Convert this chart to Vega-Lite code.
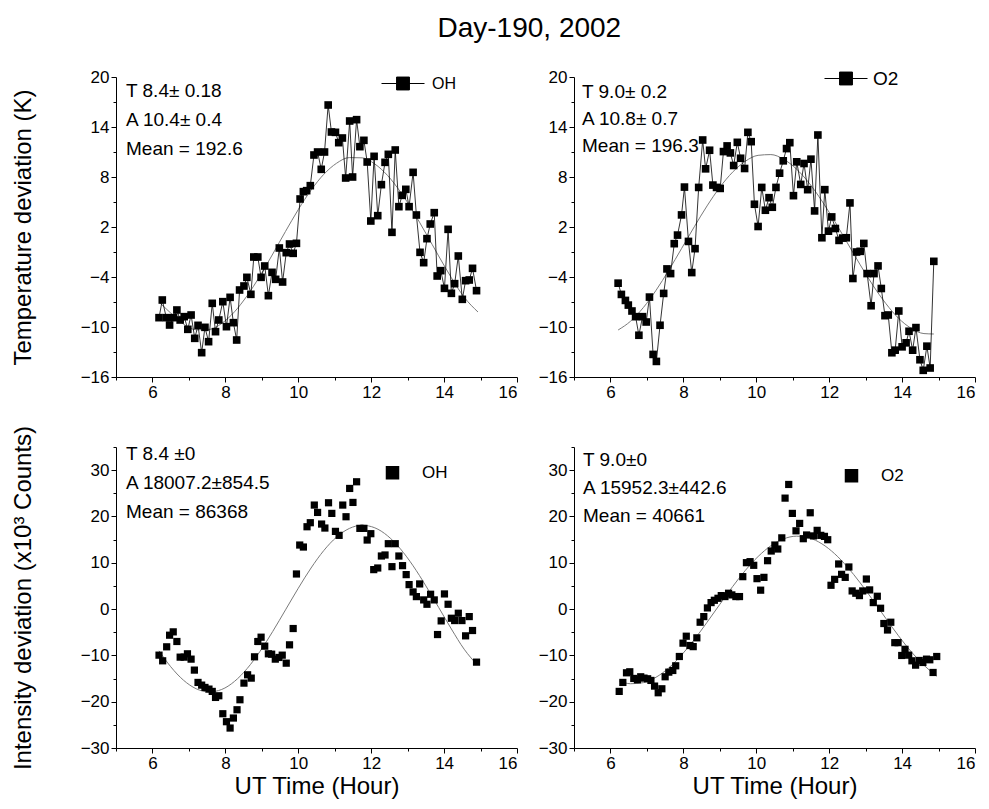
{
  "$schema": "https://vega.github.io/schema/vega-lite/v6.json",
  "background": "white",
  "padding": {"left": 11, "top": 14, "right": 5, "bottom": 5},
  "title": {"text": "Day-190, 2002", "fontSize": 28, "font": "Liberation Sans", "fontWeight": "normal", "color": "black", "anchor": "middle", "frame": "bounds", "offset": 14, "dx": 36},
  "config": {
    "view": {"stroke": null},
    "font": "Liberation Sans",
    "axis": {"labelFont": "Liberation Sans", "labelFontSize": 17, "labelColor": "black", "domainColor": "black", "tickColor": "black", "grid": false, "titleFont": "Liberation Sans", "titleFontSize": 24, "titleFontWeight": "normal", "titleColor": "black", "tickSize": 5, "labelPadding": 2, "domainWidth": 1, "tickWidth": 1},
    "legend": {"labelFont": "Liberation Sans", "labelColor": "black", "title": null, "padding": 0}
  },
  "resolve": {"scale": {"color": "independent", "shape": "independent"}, "legend": {"color": "independent", "shape": "independent"}},
  "datasets": {
    "ohT": [
      {"t":6.18,"v":-8.88},{"t":6.27,"v":-6.76},{"t":6.38,"v":-8.88},{"t":6.47,"v":-9.76},{"t":6.58,"v":-8.88},{"t":6.67,"v":-7.96},{"t":6.76,"v":-9.16},{"t":6.87,"v":-8.76},{"t":6.97,"v":-10.28},{"t":7.06,"v":-8.56},
      {"t":7.16,"v":-11.36},{"t":7.25,"v":-9.8},{"t":7.35,"v":-13.08},{"t":7.44,"v":-10.04},{"t":7.54,"v":-11.76},{"t":7.64,"v":-7.16},{"t":7.73,"v":-10.56},{"t":7.82,"v":-9.16},{"t":7.93,"v":-6.96},{"t":8.03,"v":-9.96},
      {"t":8.13,"v":-6.44},{"t":8.22,"v":-9.48},{"t":8.31,"v":-11.56},{"t":8.39,"v":-5.56},{"t":8.51,"v":-5.08},{"t":8.59,"v":-4.04},{"t":8.70,"v":-6.08},{"t":8.78,"v":-1.6},{"t":8.89,"v":-1.6},{"t":8.98,"v":-4.04},
      {"t":9.08,"v":-2.68},{"t":9.18,"v":-6.24},{"t":9.28,"v":-3.44},{"t":9.38,"v":-4.28},{"t":9.48,"v":-0.52},{"t":9.57,"v":-4.6},{"t":9.67,"v":-1.08},{"t":9.76,"v":-0.04},{"t":9.86,"v":-1.16},{"t":9.95,"v":0.04},
      {"t":10.05,"v":5.36},{"t":10.14,"v":6.24},{"t":10.23,"v":6.36},{"t":10.33,"v":6.96},{"t":10.43,"v":10.64},{"t":10.53,"v":11.0},{"t":10.63,"v":8.92},{"t":10.72,"v":11.0},{"t":10.82,"v":16.64},{"t":10.91,"v":13.4},
      {"t":11.02,"v":13.36},{"t":11.11,"v":12.12},{"t":11.21,"v":12.68},{"t":11.30,"v":7.88},{"t":11.41,"v":14.72},{"t":11.49,"v":8.0},{"t":11.60,"v":14.88},{"t":11.69,"v":11.64},{"t":11.80,"v":12.4},{"t":11.89,"v":9.8},
      {"t":11.99,"v":2.72},{"t":12.08,"v":10.48},{"t":12.18,"v":3.36},{"t":12.28,"v":7.08},{"t":12.38,"v":9.76},{"t":12.47,"v":10.72},{"t":12.57,"v":1.36},{"t":12.66,"v":11.24},{"t":12.76,"v":4.44},{"t":12.85,"v":5.8},
      {"t":12.95,"v":6.52},{"t":13.04,"v":4.44},{"t":13.15,"v":8.56},{"t":13.24,"v":3.44},{"t":13.34,"v":-1.04},{"t":13.44,"v":-2.28},{"t":13.53,"v":0.6},{"t":13.62,"v":2.36},{"t":13.73,"v":3.72},{"t":13.81,"v":-3.88},
      {"t":13.91,"v":-3.24},{"t":14.01,"v":-5.36},{"t":14.11,"v":1.72},{"t":14.20,"v":-5.96},{"t":14.29,"v":-4.8},{"t":14.39,"v":-1.48},{"t":14.50,"v":-6.68},{"t":14.59,"v":-4.44},{"t":14.69,"v":-4.36},{"t":14.78,"v":-2.96},
      {"t":14.89,"v":-5.64}
    ],
    "o2T": [
      {"t":6.21,"v":-4.74},{"t":6.30,"v":-6.09},{"t":6.41,"v":-6.81},{"t":6.49,"v":-7.37},{"t":6.59,"v":-8.08},{"t":6.69,"v":-8.76},{"t":6.78,"v":-10.99},{"t":6.88,"v":-8.76},{"t":6.98,"v":-9.4},{"t":7.07,"v":-6.41},
      {"t":7.17,"v":-13.29},{"t":7.26,"v":-14.13},{"t":7.36,"v":-9.79},{"t":7.46,"v":-5.97},{"t":7.55,"v":-3.03},{"t":7.65,"v":-3.59},{"t":7.75,"v":0.0},{"t":7.84,"v":1.03},{"t":7.95,"v":3.45},{"t":8.03,"v":6.79},
      {"t":8.14,"v":0.27},{"t":8.23,"v":-3.47},{"t":8.32,"v":-0.6},{"t":8.42,"v":6.75},{"t":8.53,"v":12.44},{"t":8.61,"v":8.98},{"t":8.72,"v":11.21},{"t":8.81,"v":7.03},{"t":8.91,"v":6.75},{"t":9.01,"v":6.63},
      {"t":9.10,"v":11.05},{"t":9.20,"v":11.73},{"t":9.29,"v":10.89},{"t":9.38,"v":9.38},{"t":9.48,"v":12.16},{"t":9.57,"v":10.25},{"t":9.68,"v":9.02},{"t":9.77,"v":13.36},{"t":9.86,"v":12.24},{"t":9.95,"v":4.73},
      {"t":10.05,"v":2.06},{"t":10.15,"v":6.75},{"t":10.25,"v":4.01},{"t":10.35,"v":5.52},{"t":10.44,"v":4.37},{"t":10.54,"v":6.75},{"t":10.64,"v":8.46},{"t":10.74,"v":9.94},{"t":10.83,"v":11.41},{"t":10.92,"v":12.12},
      {"t":11.02,"v":5.76},{"t":11.11,"v":9.82},{"t":11.22,"v":7.11},{"t":11.31,"v":9.62},{"t":11.41,"v":6.48},{"t":11.50,"v":10.14},{"t":11.60,"v":3.93},{"t":11.69,"v":13.04},{"t":11.80,"v":0.71},{"t":11.88,"v":6.48},
      {"t":11.98,"v":1.5},{"t":12.07,"v":3.21},{"t":12.17,"v":1.82},{"t":12.27,"v":0.39},{"t":12.37,"v":0.67},{"t":12.47,"v":0.71},{"t":12.57,"v":4.89},{"t":12.65,"v":-4.18},{"t":12.75,"v":-1.0},{"t":12.85,"v":-0.92},
      {"t":12.95,"v":0.03},{"t":13.04,"v":-3.59},{"t":13.15,"v":-7.45},{"t":13.23,"v":-3.59},{"t":13.34,"v":-2.67},{"t":13.43,"v":-5.38},{"t":13.53,"v":-8.64},{"t":13.62,"v":-8.56},{"t":13.72,"v":-13.09},{"t":13.81,"v":-12.78},
      {"t":13.91,"v":-8.08},{"t":14.00,"v":-12.38},{"t":14.11,"v":-11.9},{"t":14.19,"v":-10.51},{"t":14.29,"v":-12.78},{"t":14.38,"v":-10.07},{"t":14.49,"v":-13.93},{"t":14.58,"v":-15.2},{"t":14.68,"v":-12.3},{"t":14.77,"v":-14.92},
      {"t":14.87,"v":-2.12}
    ],
    "ohI": [
      {"t":6.18,"v":-9.95},{"t":6.28,"v":-11.17},{"t":6.39,"v":-8.15},{"t":6.47,"v":-5.64},{"t":6.57,"v":-4.92},{"t":6.67,"v":-7.0},{"t":6.76,"v":-10.38},{"t":6.87,"v":-10.38},{"t":6.96,"v":-9.66},{"t":7.06,"v":-10.81},
      {"t":7.15,"v":-13.18},{"t":7.25,"v":-15.84},{"t":7.35,"v":-16.42},{"t":7.44,"v":-16.92},{"t":7.55,"v":-17.28},{"t":7.64,"v":-17.78},{"t":7.73,"v":-19.08},{"t":7.82,"v":-18.72},{"t":7.93,"v":-22.6},{"t":8.03,"v":-24.32},
      {"t":8.13,"v":-25.69},{"t":8.22,"v":-23.53},{"t":8.32,"v":-21.74},{"t":8.40,"v":-19.58},{"t":8.51,"v":-15.99},{"t":8.61,"v":-14.19},{"t":8.71,"v":-14.91},{"t":8.80,"v":-10.31},{"t":8.89,"v":-7.0},{"t":8.98,"v":-6.07},
      {"t":9.08,"v":-8.01},{"t":9.18,"v":-9.66},{"t":9.27,"v":-9.74},{"t":9.37,"v":-10.81},{"t":9.47,"v":-10.45},{"t":9.56,"v":-9.95},{"t":9.67,"v":-11.68},{"t":9.76,"v":-7.72},{"t":9.86,"v":-4.2},{"t":9.95,"v":7.58},
      {"t":10.04,"v":13.83},{"t":10.14,"v":13.4},{"t":10.24,"v":17.78},{"t":10.33,"v":18.65},{"t":10.44,"v":22.46},{"t":10.53,"v":20.87},{"t":10.64,"v":18.36},{"t":10.73,"v":17.5},{"t":10.83,"v":22.96},{"t":10.92,"v":20.66},
      {"t":11.02,"v":16.78},{"t":11.12,"v":15.92},{"t":11.22,"v":22.46},{"t":11.31,"v":19.94},{"t":11.41,"v":26.05},{"t":11.50,"v":23.03},{"t":11.60,"v":27.49},{"t":11.69,"v":17.43},{"t":11.80,"v":17.43},{"t":11.89,"v":14.91},
      {"t":11.99,"v":16.28},{"t":12.07,"v":8.52},{"t":12.18,"v":8.87},{"t":12.28,"v":11.46},{"t":12.38,"v":11.68},{"t":12.47,"v":14.12},{"t":12.57,"v":9.16},{"t":12.66,"v":14.12},{"t":12.76,"v":11.46},{"t":12.86,"v":9.38},
      {"t":12.96,"v":7.44},{"t":13.04,"v":5.28},{"t":13.15,"v":3.7},{"t":13.24,"v":2.69},{"t":13.33,"v":5.43},{"t":13.44,"v":1.98},{"t":13.53,"v":1.04},{"t":13.63,"v":3.2},{"t":13.73,"v":1.98},{"t":13.82,"v":-5.5},
      {"t":13.92,"v":-2.55},{"t":14.01,"v":3.27},{"t":14.11,"v":1.04},{"t":14.20,"v":-1.98},{"t":14.29,"v":-2.48},{"t":14.39,"v":-0.9},{"t":14.49,"v":-2.48},{"t":14.59,"v":-5.78},{"t":14.69,"v":-1.62},{"t":14.78,"v":-4.63},
      {"t":14.89,"v":-11.46}
    ],
    "o2I": [
      {"t":6.24,"v":-17.78},{"t":6.34,"v":-15.84},{"t":6.44,"v":-13.76},{"t":6.53,"v":-13.54},{"t":6.64,"v":-14.98},{"t":6.74,"v":-15.27},{"t":6.83,"v":-14.62},{"t":6.92,"v":-14.91},{"t":7.02,"v":-15.05},{"t":7.11,"v":-15.41},
      {"t":7.21,"v":-16.63},{"t":7.31,"v":-18.07},{"t":7.41,"v":-17.21},{"t":7.50,"v":-14.62},{"t":7.60,"v":-13.62},{"t":7.71,"v":-13.26},{"t":7.79,"v":-12.25},{"t":7.89,"v":-10.24},{"t":7.99,"v":-7.36},{"t":8.08,"v":-5.86},
      {"t":8.18,"v":-7.87},{"t":8.27,"v":-8.11},{"t":8.37,"v":-6.21},{"t":8.46,"v":-2.84},{"t":8.56,"v":-1.62},{"t":8.66,"v":0.25},{"t":8.76,"v":1.4},{"t":8.85,"v":1.9},{"t":8.95,"v":2.33},{"t":9.04,"v":2.91},
      {"t":9.14,"v":2.7},{"t":9.24,"v":3.42},{"t":9.33,"v":3.06},{"t":9.44,"v":2.7},{"t":9.54,"v":2.7},{"t":9.63,"v":7.0},{"t":9.73,"v":10.02},{"t":9.83,"v":10.24},{"t":9.93,"v":9.45},{"t":10.02,"v":6.57},
      {"t":10.12,"v":4.08},{"t":10.21,"v":6.85},{"t":10.31,"v":10.45},{"t":10.41,"v":12.54},{"t":10.51,"v":13.83},{"t":10.59,"v":12.97},{"t":10.70,"v":15.38},{"t":10.79,"v":23.96},{"t":10.89,"v":26.91},{"t":10.99,"v":20.66},
      {"t":11.09,"v":16.9},{"t":11.19,"v":18.5},{"t":11.29,"v":15.2},{"t":11.38,"v":16.0},{"t":11.48,"v":20.8},{"t":11.57,"v":15.8},{"t":11.67,"v":17.0},{"t":11.77,"v":15.92},{"t":11.87,"v":15.7},{"t":11.96,"v":14.98},
      {"t":12.05,"v":5.14},{"t":12.15,"v":6.42},{"t":12.26,"v":9.74},{"t":12.34,"v":7.5},{"t":12.44,"v":6.85},{"t":12.54,"v":9.09},{"t":12.63,"v":3.92},{"t":12.73,"v":3.42},{"t":12.83,"v":2.91},{"t":12.92,"v":3.92},
      {"t":13.02,"v":6.49},{"t":13.11,"v":4.14},{"t":13.21,"v":1.4},{"t":13.32,"v":2.77},{"t":13.41,"v":0.18},{"t":13.50,"v":-3.12},{"t":13.60,"v":-4.52},{"t":13.69,"v":-2.84},{"t":13.80,"v":-7.25},{"t":13.89,"v":-7.25},
      {"t":13.99,"v":-10.02},{"t":14.08,"v":-8.69},{"t":14.18,"v":-9.95},{"t":14.27,"v":-11.17},{"t":14.37,"v":-12.11},{"t":14.47,"v":-11.1},{"t":14.57,"v":-11.53},{"t":14.67,"v":-10.81},{"t":14.76,"v":-10.95},{"t":14.85,"v":-13.69},
      {"t":14.95,"v":-10.24}
    ],
    "ohT_fit": [
      {"t":6.2,"v":-7.1},{"t":6.5,"v":-8.32},{"t":6.85,"v":-9.65},{"t":7.2,"v":-10.33},{"t":7.55,"v":-10.3},{"t":7.9,"v":-9.57},{"t":8.25,"v":-8.18},{"t":8.6,"v":-6.23},{"t":8.95,"v":-3.87},{"t":9.3,"v":-1.24},
      {"t":9.65,"v":1.47},{"t":10.0,"v":4.09},{"t":10.35,"v":6.42},{"t":10.7,"v":8.32},{"t":11.05,"v":9.65},{"t":11.4,"v":10.33},{"t":11.75,"v":10.3},{"t":12.1,"v":9.56},{"t":12.45,"v":8.18},{"t":12.8,"v":6.23},
      {"t":13.15,"v":3.87},{"t":13.5,"v":1.24},{"t":13.85,"v":-1.47},{"t":14.2,"v":-4.09},{"t":14.55,"v":-6.42},{"t":14.93,"v":-8.2}
    ],
    "o2T_fit": [
      {"t":6.21,"v":-10.36},{"t":6.55,"v":-9.31},{"t":6.9,"v":-7.68},{"t":7.25,"v":-5.6},{"t":7.6,"v":-3.19},{"t":7.95,"v":-0.59},{"t":8.3,"v":2.03},{"t":8.65,"v":4.53},{"t":9.0,"v":6.76},{"t":9.35,"v":8.58},
      {"t":9.7,"v":9.89},{"t":10.05,"v":10.6},{"t":10.4,"v":10.69},{"t":10.75,"v":10.13},{"t":11.1,"v":8.97},{"t":11.45,"v":7.27},{"t":11.8,"v":5.13},{"t":12.15,"v":2.69},{"t":12.5,"v":0.08},{"t":12.85,"v":-2.53},
      {"t":13.2,"v":-5.0},{"t":13.55,"v":-7.16},{"t":13.9,"v":-8.94},{"t":14.25,"v":-10.16},{"t":14.6,"v":-10.79},{"t":14.87,"v":-10.84}
    ],
    "ohI_fit": [
      {"t":6.18,"v":-9.01},{"t":6.5,"v":-12.44},{"t":6.85,"v":-15.35},{"t":7.2,"v":-17.21},{"t":7.55,"v":-17.9},{"t":7.9,"v":-17.36},{"t":8.25,"v":-15.62},{"t":8.6,"v":-12.82},{"t":8.95,"v":-9.14},{"t":9.3,"v":-4.82},
      {"t":9.65,"v":-0.17},{"t":10.0,"v":4.5},{"t":10.35,"v":8.87},{"t":10.7,"v":12.64},{"t":11.05,"v":15.55},{"t":11.4,"v":17.41},{"t":11.75,"v":18.1},{"t":12.1,"v":17.55},{"t":12.45,"v":15.82},{"t":12.8,"v":13.02},
      {"t":13.15,"v":9.34},{"t":13.5,"v":5.01},{"t":13.85,"v":0.37},{"t":14.2,"v":-4.3},{"t":14.55,"v":-8.66},{"t":14.89,"v":-11.9}
    ],
    "o2I_fit": [
      {"t":6.24,"v":-15.53},{"t":6.55,"v":-16.12},{"t":6.9,"v":-15.89},{"t":7.25,"v":-14.72},{"t":7.6,"v":-12.7},{"t":7.95,"v":-9.93},{"t":8.3,"v":-6.58},{"t":8.65,"v":-2.85},{"t":9.0,"v":1.02},{"t":9.35,"v":4.84},
      {"t":9.7,"v":8.35},{"t":10.05,"v":11.35},{"t":10.4,"v":13.67},{"t":10.75,"v":15.16},{"t":11.1,"v":15.74},{"t":11.45,"v":15.38},{"t":11.8,"v":14.09},{"t":12.15,"v":11.95},{"t":12.5,"v":9.08},{"t":12.85,"v":5.67},
      {"t":13.2,"v":1.91},{"t":13.55,"v":-1.97},{"t":13.9,"v":-5.75},{"t":14.25,"v":-9.21},{"t":14.6,"v":-12.13},{"t":14.95,"v":-14.5}
    ],
    "notes_ohT": [{"note":"T 8.4± 0.18","order":1},{"note":"A 10.4± 0.4","order":2},{"note":"Mean = 192.6","order":3}],
    "notes_o2T": [{"note":"T 9.0± 0.2","order":1},{"note":"A 10.8± 0.7","order":2},{"note":"Mean = 196.3","order":3}],
    "notes_ohI": [{"note":"T  8.4 ±0","order":1},{"note":"A 18007.2±854.5","order":2},{"note":"Mean = 86368","order":3}],
    "notes_o2I": [{"note":"T  9.0±0","order":1},{"note":"A 15952.3±442.6","order":2},{"note":"Mean = 40661","order":3}]
  },
  "columns": 2,
  "spacing": {"row": 70, "column": 57},
  "bounds": "flush",
  "concat": [
    {
      "width": 401, "height": 300,
      "resolve": {"axis": {"x": "independent", "y": "independent"}},
      "layer": [
        {"data": {"name": "ohT_fit"}, "mark": {"type": "line", "color": "#7a7a7a", "strokeWidth": 1, "interpolate": "monotone"},
         "encoding": {
           "x": {"field": "t", "type": "quantitative", "scale": {"domain": [5, 16], "nice": false, "zero": false}, "axis": {"orient": "bottom", "values": [5,7,9,11,13,15], "labels": false, "tickSize": 3, "title": null, "domain": false}},
           "y": {"field": "v", "type": "quantitative", "scale": {"domain": [-16, 20], "nice": false, "zero": false}, "axis": {"orient": "left", "values": [-13,-7,-1,5,11,17], "labels": false, "tickSize": 3, "title": null, "domain": false}}}},
        {"data": {"name": "ohT"}, "mark": {"type": "line", "color": "black", "strokeWidth": 0.8},
         "encoding": {"x": {"field": "t", "type": "quantitative", "axis": null}, "y": {"field": "v", "type": "quantitative", "axis": null}}},
        {"data": {"name": "ohT"}, "mark": {"type": "point", "shape": "square", "filled": true, "size": 58, "opacity": 1},
         "encoding": {
           "x": {"field": "t", "type": "quantitative", "axis": {"orient": "bottom", "values": [6,8,10,12,14,16], "format": "d", "title": null}},
           "y": {"field": "v", "type": "quantitative", "axis": {"orient": "left", "values": [-16,-10,-4,2,8,14,20], "format": "d", "title": "Temperature deviation (K)", "titlePadding": 45}},
           "color": {"datum": "OH", "type": "nominal", "scale": {"range": ["black"]}, "legend": {"orient": "none", "legendX": 265, "legendY": -15.5, "symbolType": "M-1,0H1M-0.3,-0.3H0.3V0.3H-0.3Z", "symbolSize": 1849, "symbolStrokeColor": "black", "symbolFillColor": "black", "symbolStrokeWidth": 1, "labelFontSize": 16, "labelOffset": 7}}}},
        {"data": {"name": "notes_ohT"}, "mark": {"type": "point", "opacity": 0},
         "encoding": {"shape": {"field": "note", "type": "nominal", "sort": {"field": "order", "op": "min"}, "legend": {"orient": "none", "legendX": -9, "legendY": 4, "symbolSize": 0, "symbolOpacity": 0, "labelOffset": 0, "labelFontSize": 19, "rowPadding": 9, "labelLimit": 300}}}}
      ]
    },
    {
      "width": 401, "height": 300,
      "resolve": {"axis": {"x": "independent", "y": "independent"}},
      "layer": [
        {"data": {"name": "o2T_fit"}, "mark": {"type": "line", "color": "#7a7a7a", "strokeWidth": 1, "interpolate": "monotone"},
         "encoding": {
           "x": {"field": "t", "type": "quantitative", "scale": {"domain": [5, 16], "nice": false, "zero": false}, "axis": {"orient": "bottom", "values": [5,7,9,11,13,15], "labels": false, "tickSize": 3, "title": null, "domain": false}},
           "y": {"field": "v", "type": "quantitative", "scale": {"domain": [-16, 20], "nice": false, "zero": false}, "axis": {"orient": "left", "values": [-13,-7,-1,5,11,17], "labels": false, "tickSize": 3, "title": null, "domain": false}}}},
        {"data": {"name": "o2T"}, "mark": {"type": "line", "color": "black", "strokeWidth": 0.8},
         "encoding": {"x": {"field": "t", "type": "quantitative", "axis": null}, "y": {"field": "v", "type": "quantitative", "axis": null}}},
        {"data": {"name": "o2T"}, "mark": {"type": "point", "shape": "square", "filled": true, "size": 58, "opacity": 1},
         "encoding": {
           "x": {"field": "t", "type": "quantitative", "axis": {"orient": "bottom", "values": [6,8,10,12,14,16], "format": "d", "title": null}},
           "y": {"field": "v", "type": "quantitative", "axis": {"orient": "left", "values": [-16,-10,-4,2,8,14,20], "format": "d", "title": null}},
           "color": {"datum": "O2", "type": "nominal", "scale": {"range": ["black"]}, "legend": {"orient": "none", "legendX": 250, "legendY": -20.5, "symbolType": "M-1,0H1M-0.3,-0.3H0.3V0.3H-0.3Z", "symbolSize": 1849, "symbolStrokeColor": "black", "symbolFillColor": "black", "symbolStrokeWidth": 1, "labelFontSize": 19, "labelOffset": 5}}}},
        {"data": {"name": "notes_o2T"}, "mark": {"type": "point", "opacity": 0},
         "encoding": {"shape": {"field": "note", "type": "nominal", "sort": {"field": "order", "op": "min"}, "legend": {"orient": "none", "legendX": -11, "legendY": 5.7, "symbolSize": 0, "symbolOpacity": 0, "labelOffset": 0, "labelFontSize": 19, "rowPadding": 7, "labelLimit": 300}}}}
      ]
    },
    {
      "width": 401, "height": 301,
      "resolve": {"axis": {"x": "independent", "y": "independent"}},
      "layer": [
        {"data": {"name": "ohI_fit"}, "mark": {"type": "line", "color": "#7a7a7a", "strokeWidth": 1, "interpolate": "monotone"},
         "encoding": {
           "x": {"field": "t", "type": "quantitative", "scale": {"domain": [5, 16], "nice": false, "zero": false}, "axis": {"orient": "bottom", "values": [5,7,9,11,13,15], "labels": false, "tickSize": 3, "title": null, "domain": false}},
           "y": {"field": "v", "type": "quantitative", "scale": {"domain": [-30, 35], "nice": false, "zero": false}, "axis": {"orient": "left", "values": [-25,-15,-5,5,15,25,35], "labels": false, "tickSize": 3, "title": null, "domain": false}}}},
        {"data": {"name": "ohI"}, "mark": {"type": "point", "shape": "square", "filled": true, "size": 52, "opacity": 1},
         "encoding": {
           "x": {"field": "t", "type": "quantitative", "axis": {"orient": "bottom", "values": [6,8,10,12,14,16], "format": "d", "title": "UT Time (Hour)", "titlePadding": 3}},
           "y": {"field": "v", "type": "quantitative", "axis": {"orient": "left", "values": [-30,-20,-10,0,10,20,30], "format": "d", "title": "Intensity deviation (x10³ Counts)", "titlePadding": 45}},
           "color": {"datum": "OH", "type": "nominal", "scale": {"range": ["black"]}, "legend": {"orient": "none", "legendX": 268, "legendY": 17.3, "symbolType": "square", "symbolSize": 144, "symbolStrokeColor": "black", "symbolFillColor": "black", "labelFontSize": 17, "labelOffset": 21}}}},
        {"data": {"name": "notes_ohI"}, "mark": {"type": "point", "opacity": 0},
         "encoding": {"shape": {"field": "note", "type": "nominal", "sort": {"field": "order", "op": "min"}, "legend": {"orient": "none", "legendX": -9, "legendY": -2.7, "symbolSize": 0, "symbolOpacity": 0, "labelOffset": 0, "labelFontSize": 19, "rowPadding": 9, "labelLimit": 300}}}}
      ]
    },
    {
      "width": 401, "height": 301,
      "resolve": {"axis": {"x": "independent", "y": "independent"}},
      "layer": [
        {"data": {"name": "o2I_fit"}, "mark": {"type": "line", "color": "#7a7a7a", "strokeWidth": 1, "interpolate": "monotone"},
         "encoding": {
           "x": {"field": "t", "type": "quantitative", "scale": {"domain": [5, 16], "nice": false, "zero": false}, "axis": {"orient": "bottom", "values": [5,7,9,11,13,15], "labels": false, "tickSize": 3, "title": null, "domain": false}},
           "y": {"field": "v", "type": "quantitative", "scale": {"domain": [-30, 35], "nice": false, "zero": false}, "axis": {"orient": "left", "values": [-25,-15,-5,5,15,25,35], "labels": false, "tickSize": 3, "title": null, "domain": false}}}},
        {"data": {"name": "o2I"}, "mark": {"type": "point", "shape": "square", "filled": true, "size": 52, "opacity": 1},
         "encoding": {
           "x": {"field": "t", "type": "quantitative", "axis": {"orient": "bottom", "values": [6,8,10,12,14,16], "format": "d", "title": "UT Time (Hour)", "titlePadding": 3}},
           "y": {"field": "v", "type": "quantitative", "axis": {"orient": "left", "values": [-30,-20,-10,0,10,20,30], "format": "d", "title": null}},
           "color": {"datum": "O2", "type": "nominal", "scale": {"range": ["black"]}, "legend": {"orient": "none", "legendX": 269, "legendY": 20.3, "symbolType": "square", "symbolSize": 144, "symbolStrokeColor": "black", "symbolFillColor": "black", "labelFontSize": 17, "labelOffset": 21}}}},
        {"data": {"name": "notes_o2I"}, "mark": {"type": "point", "opacity": 0},
         "encoding": {"shape": {"field": "note", "type": "nominal", "sort": {"field": "order", "op": "min"}, "legend": {"orient": "none", "legendX": -10, "legendY": 3.6, "symbolSize": 0, "symbolOpacity": 0, "labelOffset": 0, "labelFontSize": 19, "rowPadding": 8, "labelLimit": 300}}}}
      ]
    }
  ]
}
